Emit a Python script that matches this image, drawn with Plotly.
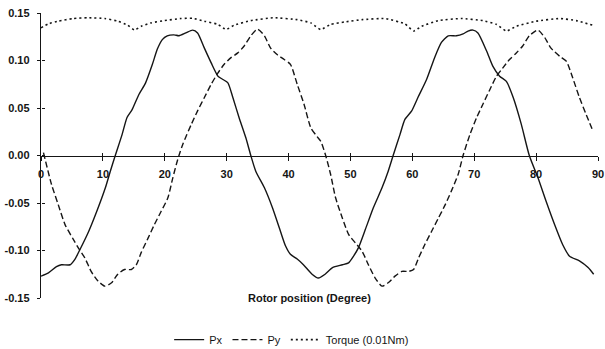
import plotly.graph_objects as go

# ---- data ----
px_deg = [0, 1.2, 2.5, 3.3, 4.7, 5.5, 6.3, 7.7, 9.0, 10.4, 11.2, 12.0, 13.1, 13.9, 14.7, 15.8,
          16.9, 18.0, 18.8, 19.6, 20.4, 21.5, 22.3, 23.4, 24.5, 25.3, 26.4, 27.5, 28.6, 29.4,
          30.2, 31.0, 32.0, 33.1, 33.9, 34.7, 36.1, 37.4, 38.7, 39.5, 40.3, 41.4, 42.4, 43.8,
          44.8, 45.9, 47.1, 48.7, 49.7, 50.5, 51.3, 52.4, 53.7, 55.1, 56.1, 56.9, 58.0, 58.8,
          59.9, 60.9, 62.3, 63.6, 64.7, 65.8, 67.1, 68.2, 69.0, 69.8, 70.6, 72.0, 73.0, 74.1,
          75.2, 76.3, 77.6, 78.9, 80.3, 81.6, 83.0, 84.3, 85.4, 87.0, 88.4, 89.3]
px_val = [-0.127, -0.1235, -0.117, -0.115, -0.115, -0.109, -0.099, -0.080, -0.059, -0.034,
          -0.0165, 0.0, 0.022, 0.040, 0.048, 0.064, 0.0765, 0.096, 0.112, 0.122, 0.126, 0.127,
          0.126, 0.129, 0.132, 0.129, 0.113, 0.0975, 0.0835, 0.080, 0.0765, 0.061, 0.040,
          0.0186, 0.0, -0.0165, -0.034, -0.055, -0.080, -0.095, -0.104, -0.109, -0.115, -0.125,
          -0.129, -0.125, -0.118, -0.115, -0.113, -0.106, -0.097, -0.078, -0.055, -0.034,
          -0.0165, 0.0, 0.022, 0.038, 0.047, 0.061, 0.080, 0.103, 0.119, 0.126, 0.126, 0.128,
          0.131, 0.132, 0.129, 0.110, 0.094, 0.0835, 0.078, 0.061, 0.033, 0.0, -0.0235, -0.048,
          -0.073, -0.094, -0.106, -0.111, -0.118, -0.125]

py_deg = [0.4, 1.7, 2.8, 3.9, 5.2, 6.0, 7.1, 8.1, 9.2, 10.3, 11.4, 12.4, 13.5, 14.6, 15.4, 16.2,
          17.3, 18.3, 19.4, 20.5, 21.3, 22.1, 22.9, 24.3, 25.3, 26.4, 27.5, 28.6, 29.6, 30.7,
          31.8, 32.8, 33.9, 35.0, 36.1, 37.1, 38.2, 39.3, 40.3, 41.4, 42.5, 43.6, 44.6, 45.2,
          46.0, 46.8, 47.6, 48.7, 49.7, 50.8, 51.9, 52.9, 54.0, 55.1, 56.1, 57.2, 58.3, 59.4,
          60.2, 61.0, 62.0, 63.1, 64.2, 65.3, 66.3, 67.4, 68.2, 69.3, 70.4, 71.4, 72.5, 73.6,
          74.6, 75.7, 76.8, 77.8, 78.9, 80.3, 81.4, 82.4, 83.8, 84.9, 85.9, 87.0, 88.1, 89.2]
py_val = [0.003, -0.0305, -0.052, -0.073, -0.088, -0.097, -0.108, -0.122, -0.132, -0.1375,
          -0.134, -0.125, -0.120, -0.120, -0.115, -0.102, -0.087, -0.073, -0.059, -0.0445,
          -0.0235, -0.004, 0.0116, 0.033, 0.047, 0.061, 0.075, 0.087, 0.096, 0.103, 0.108,
          0.115, 0.126, 0.133, 0.126, 0.113, 0.106, 0.101, 0.096, 0.075, 0.054, 0.029, 0.020,
          0.015, 0.0, -0.020, -0.0445, -0.066, -0.083, -0.092, -0.101, -0.115, -0.129, -0.1375,
          -0.134, -0.127, -0.122, -0.122, -0.120, -0.108, -0.094, -0.080, -0.066, -0.052,
          -0.0375, -0.020, 0.0, 0.022, 0.040, 0.054, 0.069, 0.0835, 0.092, 0.101, 0.108, 0.115,
          0.126, 0.132, 0.124, 0.113, 0.1045, 0.099, 0.082, 0.061, 0.043, 0.0256]

tq_deg = [0, 1.2, 2.8, 5.2, 7.6, 10.3, 12.4, 14.0, 15.1, 16.2, 17.8, 19.9, 22.6, 24.5, 26.4,
          28.6, 29.9, 31.2, 33.9, 37.6, 41.4, 43.6, 45.2, 46.8, 49.2, 51.9, 55.6, 58.8, 60.2,
          61.5, 64.2, 67.9, 71.4, 73.6, 75.2, 76.8, 80.0, 83.8, 86.5, 89.2]
tq_val = [0.1344, 0.1386, 0.1414, 0.1442, 0.145, 0.1442, 0.1414, 0.1372, 0.132, 0.136, 0.1396,
          0.142, 0.1442, 0.1445, 0.1414, 0.138, 0.1326, 0.1372, 0.142, 0.145, 0.143, 0.1396,
          0.1326, 0.138, 0.1407, 0.143, 0.1442, 0.1386, 0.131, 0.136, 0.142, 0.1442, 0.142,
          0.138, 0.131, 0.136, 0.1414, 0.1442, 0.142, 0.137]

x_ticks = [0, 10, 20, 30, 40, 50, 60, 70, 80, 90]
x_ticktext = ["0", "10", "20", "30", "40", "50", "60", "70", "80", "90"]
y_ticks = [-0.15, -0.10, -0.05, 0.00, 0.05, 0.10, 0.15]
y_ticktext = ["-0.15", "-0.10", "-0.05", "0.00", "0.05", "0.10", "0.15"]

INK = "#151515"
FONT = "Liberation Sans, Arial, sans-serif"

fig = go.Figure()
fig.add_trace(go.Scatter(x=px_deg, y=px_val, mode="lines", name="Px",
                         line=dict(color=INK, width=1.4, shape="spline", smoothing=0.6)))
fig.add_trace(go.Scatter(x=py_deg, y=py_val, mode="lines", name="Py",
                         line=dict(color=INK, width=1.4, dash="6px,3px", shape="spline", smoothing=0.6)))
fig.add_trace(go.Scatter(x=tq_deg, y=tq_val, mode="lines", name="Torque (0.01Nm)",
                         line=dict(color=INK, width=1.6, dash="2px,3px", shape="spline", smoothing=0.4)))
# invisible trace to host the overlay axes that draw the inner half of the crossing ticks
fig.add_trace(go.Scatter(x=[], y=[], xaxis="x2", yaxis="y2", showlegend=False, hoverinfo="skip"))

fig.update_layout(
    width=605, height=349,
    margin=dict(l=41, r=7, t=13, b=51, autoexpand=False),
    paper_bgcolor="white", plot_bgcolor="white",
    font=dict(family=FONT, size=11, color=INK),
    showlegend=True,
    legend=dict(orientation="h", x=0.45, xanchor="center", y=-0.146, yanchor="middle",
                font=dict(size=11, color=INK), itemwidth=30, bgcolor="rgba(0,0,0,0)"),
    xaxis=dict(range=[0, 90], anchor="free", position=0.5, showline=True, linecolor=INK,
               linewidth=1.4, showgrid=False, zeroline=False, ticks="outside", ticklen=4,
               tickwidth=1.2, tickcolor=INK, tickvals=x_ticks, ticktext=x_ticktext,
               ticklabelstandoff=4, ticklabeloverflow="allow", automargin=False,
               tickfont=dict(size=11, weight="bold", color=INK)),
    yaxis=dict(range=[-0.15, 0.15], showline=True, linecolor=INK, linewidth=1.4,
               showgrid=False, zeroline=False, ticks="outside", ticklen=3, tickwidth=1.2,
               tickcolor=INK, tickvals=y_ticks, ticktext=y_ticktext, ticklabelstandoff=5,
               automargin=False, tickfont=dict(size=11, weight="bold", color=INK)),
    xaxis2=dict(range=[0, 90], overlaying="x", anchor="free", position=0.5, showline=False,
                showgrid=False, zeroline=False, ticks="inside", ticklen=3, tickwidth=1.2,
                tickcolor=INK, tickvals=x_ticks, showticklabels=False, automargin=False),
    yaxis2=dict(range=[-0.15, 0.15], overlaying="y", anchor="free", position=0, side="left",
                showline=False, showgrid=False, zeroline=False, ticks="inside", ticklen=3,
                tickwidth=1.2, tickcolor=INK, tickvals=y_ticks, showticklabels=False,
                automargin=False),
    annotations=[dict(text="Rotor position (Degree)", xref="paper", yref="paper",
                      x=0.482, y=0.0, xanchor="center", yanchor="middle", showarrow=False,
                      font=dict(size=11, weight="bold", color=INK))],
)

fig.write_html("out.html", config={"displayModeBar": False},
               post_script="document.body.style.margin='0px';document.body.style.overflow='hidden';")
